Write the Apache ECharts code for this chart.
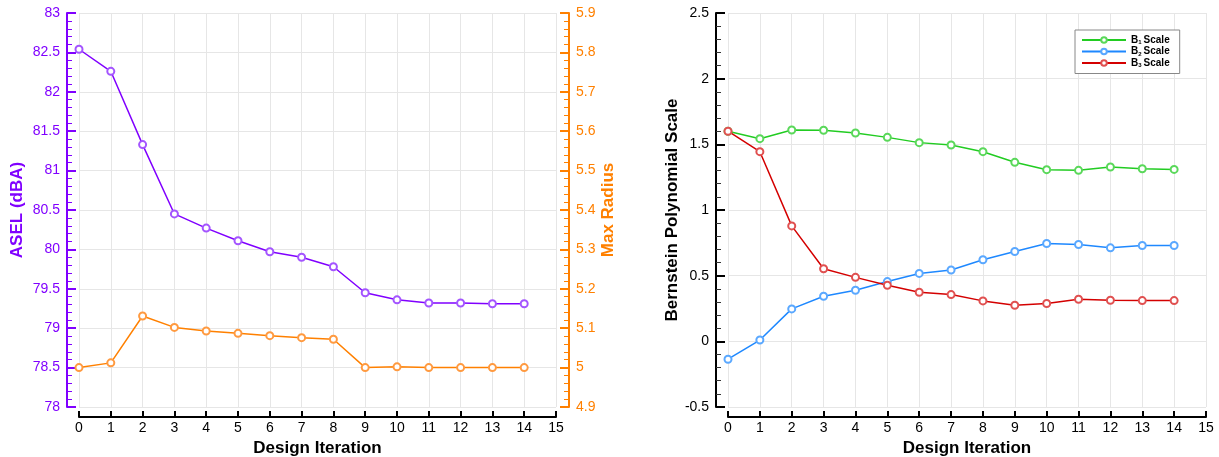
<!DOCTYPE html>
<html>
<head>
<meta charset="utf-8">
<script src="https://cdn.jsdelivr.net/npm/echarts@6/dist/echarts.min.js"></script>
<style>html,body{margin:0;padding:0;background:#fff}#c{width:1219px;height:457px}</style>
</head>
<body>
<div id="c"></div>
<script>
const iterations = [0,1,2,3,4,5,6,7,8,9,10,11,12,13,14];
const asel = [82.54,82.26,81.33,80.45,80.27,80.11,79.97,79.90,79.78,79.45,79.36,79.32,79.32,79.31,79.31];
const maxRadius = [5.0,5.012,5.131,5.102,5.093,5.087,5.081,5.076,5.072,5.0,5.002,5.0,5.0,5.0,5.0];
const b1 = [1.60,1.543,1.609,1.607,1.586,1.553,1.513,1.495,1.444,1.363,1.307,1.302,1.327,1.314,1.309];
const b2 = [-0.136,0.01,0.247,0.343,0.389,0.455,0.517,0.543,0.621,0.684,0.745,0.737,0.712,0.73,0.73];
const b3 = [1.60,1.444,0.879,0.553,0.487,0.427,0.374,0.356,0.308,0.275,0.288,0.32,0.313,0.31,0.31];
const seriesNames = ['B1 Scale','B2 Scale','B3 Scale'];

const FONT = 'Liberation Sans, Arial, sans-serif';
const pairs = arr => iterations.map((x,i)=>[x,arr[i]]);
const fmt = v => String(+(+v).toFixed(2));

function xAxis(gi){
  return {
    type:'value', gridIndex:gi, min:0, max:15, interval:1, offset:10, position:'bottom',
    name:'Design Iteration', nameLocation:'middle', nameGap:23,
    nameTextStyle:{fontFamily:FONT,fontSize:17,fontWeight:'bold',color:'#000'},
    axisLine:{show:true,onZero:false,lineStyle:{color:'#000',width:2}},
    axisTick:{show:true,inside:true,length:6,lineStyle:{color:'#000',width:2}},
    axisLabel:{fontFamily:FONT,fontSize:14,color:'#000',margin:4},
    splitLine:{show:true,lineStyle:{color:'#e6e6e6',width:1}}
  };
}
function yAxis(gi,opt){
  return Object.assign({
    type:'value', gridIndex:gi,
    nameLocation:'middle', nameRotate:90,
    axisLine:{show:true,onZero:false,lineStyle:{color:opt.color,width:2}},
    axisTick:{show:true,inside:true,length:9,lineStyle:{color:opt.color,width:2}},
    minorTick:{show:true,splitNumber:5,length:5,lineStyle:{color:opt.minorColor||opt.color,width:1}},
    axisLabel:{fontFamily:FONT,fontSize:14,color:opt.color,margin:7,formatter:fmt},
    nameTextStyle:{fontFamily:FONT,fontSize:17,fontWeight:'bold',color:opt.color},
    splitLine:{show:true,lineStyle:{color:'#e6e6e6',width:1}},
    minorSplitLine:{show:false}
  }, opt.extra);
}
function lineSeries(name, xi, yi, arr, color, mark){
  return {name, type:'line', xAxisIndex:xi, yAxisIndex:yi, data:pairs(arr),
    symbol:'emptyCircle', symbolSize:7, showAllSymbol:true,
    lineStyle:{color, width:1.5}, itemStyle:{color:mark, borderWidth:1}};
}

const chart = echarts.init(document.getElementById('c'), null, {renderer:'canvas'});
chart.setOption({
  animation:false,
  backgroundColor:'#fff',
  grid:[
    {left:79, width:477, top:13, bottom:50, containLabel:false, outerBoundsMode:'none'},
    {left:728, width:478, top:13, bottom:50, containLabel:false, outerBoundsMode:'none'}
  ],
  xAxis:[xAxis(0), xAxis(1)],
  yAxis:[
    yAxis(0,{color:'#8000ff',extra:{position:'left',offset:12,min:78,max:83,interval:0.5,name:'ASEL (dBA)',nameGap:41}}),
    yAxis(0,{color:'#ff8000',extra:{position:'right',offset:13,min:4.9,max:5.9,interval:0.1,name:'Max Radius',nameGap:29,splitLine:{show:false}}}),
    yAxis(1,{color:'#000',minorColor:'#333',extra:{position:'left',offset:12,min:-0.5,max:2.5,interval:0.5,name:'Bernstein Polynomial Scale',nameGap:35}})
  ],
  legend:{
    show:true, data:seriesNames, orient:'vertical',
    left:1075, top:30, itemWidth:44, itemHeight:7, itemGap:1,
    padding:[5,10,5,6], borderColor:'#888', borderWidth:1, backgroundColor:'#fff',
    textStyle:{fontFamily:FONT,fontSize:10,fontWeight:'bold',color:'#000',
      rich:{b:{fontFamily:FONT,fontSize:10,fontWeight:'bold',color:'#000'},
            s:{fontFamily:FONT,fontSize:6,fontWeight:'bold',color:'#000',padding:[5,2,0,0]}}},
    formatter: n => { const m=n.match(/^B(\d) (.*)$/); return '{b|B}{s|'+m[1]+'}{b|'+m[2]+'}'; }
  },
  series:[
    lineSeries('ASEL',0,0,asel,'#8000ff','#a455ff'),
    lineSeries('Max Radius',0,1,maxRadius,'#ff8000','#ff9a40'),
    lineSeries(seriesNames[0],1,2,b1,'#22cc22','#5ad85a'),
    lineSeries(seriesNames[1],1,2,b2,'#1e88ff','#5aa8ff'),
    lineSeries(seriesNames[2],1,2,b3,'#d40000','#e05050')
  ]
});
</script>
</body>
</html>
